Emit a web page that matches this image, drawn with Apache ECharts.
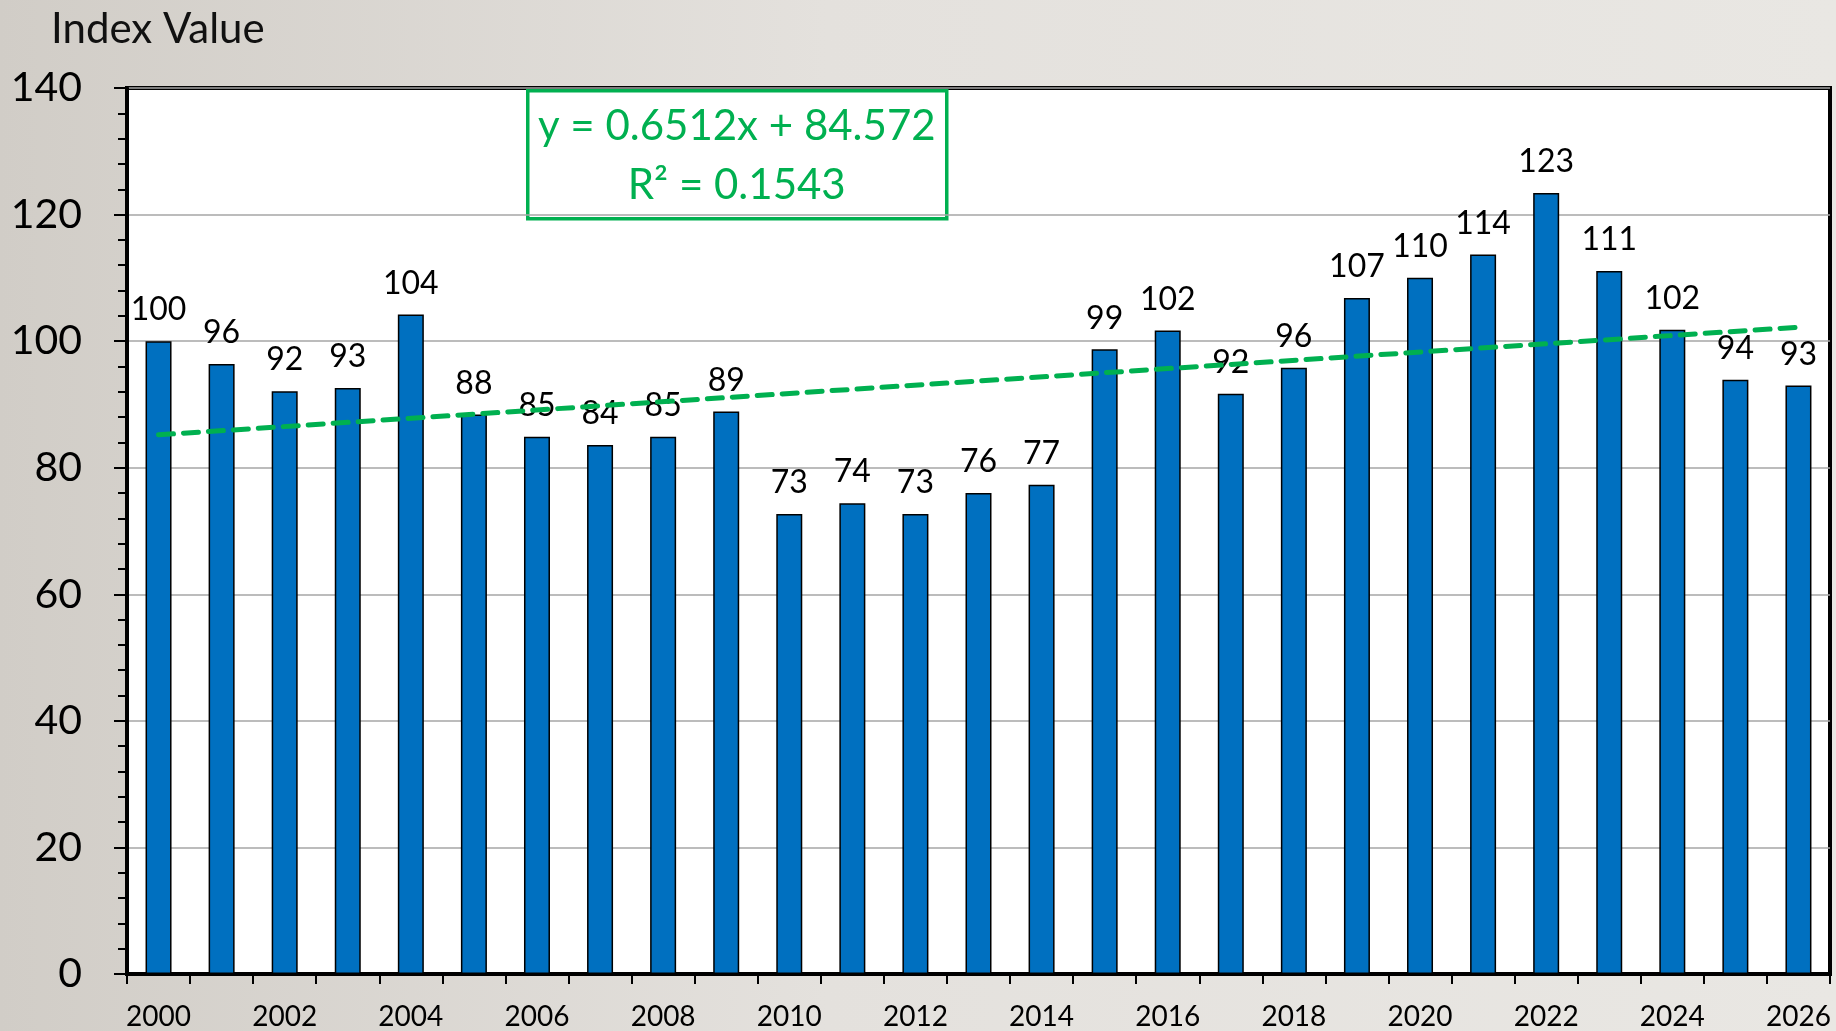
<!DOCTYPE html>
<html>
<head>
<meta charset="utf-8">
<script src="https://cdn.jsdelivr.net/npm/echarts@6/dist/echarts.min.js"></script>
<style>
  html, body { margin: 0; padding: 0; }
  #chart { width: 1836px; height: 1031px; }
</style>
</head>
<body>
<div id="chart"></div>
<script>
const years = ['2000','2001','2002','2003','2004','2005','2006','2007','2008','2009',
  '2010','2011','2012','2013','2014','2015','2016','2017','2018','2019',
  '2020','2021','2022','2023','2024','2025','2026'];
const indexValues = [100.0, 96.4, 92.1, 92.6, 104.2, 88.4, 84.9, 83.6, 84.9, 88.9,
  72.7, 74.4, 72.7, 76.0, 77.3, 98.7, 101.7, 91.7, 95.8, 106.8,
  110.0, 113.7, 123.4, 111.1, 101.8, 93.9, 93.0];
// trend line, first and last year
const trendStart = 85.2;
const trendEnd = 102.2;
const equationLines = ['y = 0.6512x + 84.572', 'R² = 0.1543'];

const trendData = years.map((y, i) => i === 0 ? trendStart : (i === years.length - 1 ? trendEnd : null));
const FONT = 'Lato';
const GREEN = '#00B050';

const chart = echarts.init(document.getElementById('chart'));
chart.setOption({
  animation: false,
  backgroundColor: {
    type: 'linear', x: 0, y: 0, x2: 1, y2: 0,
    colorStops: [
      { offset: 0, color: '#d1cdc7' },
      { offset: 0.45, color: '#e4e1dd' },
      { offset: 1, color: '#e9e7e3' }
    ]
  },
  title: {
    text: 'Index Value',
    left: 46, top: 3,
    textStyle: { fontFamily: FONT, fontSize: 42, fontWeight: 'normal', color: '#111' }
  },
  grid: {
    left: 127, top: 88, right: 6, bottom: 55,
    show: true, backgroundColor: '#ffffff', borderColor: '#000', borderWidth: 4
  },
  xAxis: {
    type: 'category',
    data: years,
    axisLine: { lineStyle: { color: '#000', width: 4 } },
    axisTick: { show: true, interval: 0, length: 10, lineStyle: { color: '#000', width: 2 } },
    axisLabel: { interval: 1, margin: 29, fontFamily: FONT, fontSize: 28, color: '#000' }
  },
  yAxis: {
    type: 'value',
    min: 0, max: 140, interval: 20,
    axisLine: { show: true, lineStyle: { color: '#000', width: 4 } },
    axisTick: { show: true, length: 13, lineStyle: { color: '#000', width: 2 } },
    minorTick: { show: true, splitNumber: 5, length: 9, lineStyle: { color: '#000', width: 2 } },
    splitLine: { lineStyle: { color: '#a6a6a6', width: 1.5 } },
    axisLabel: { margin: 45, fontFamily: FONT, fontSize: 41, color: '#000' }
  },
  graphic: [{
    type: 'group',
    left: 526, top: 89,
    z: 100,
    children: [
      { type: 'rect', shape: { x: 0, y: 0, width: 419, height: 128 },
        style: { fill: '#fff', stroke: GREEN, lineWidth: 3.5 } },
      { type: 'text', x: 209, y: 36,
        style: { text: equationLines[0], fill: GREEN, font: '42px ' + FONT, align: 'center', verticalAlign: 'middle' } },
      { type: 'text', x: 209, y: 95,
        style: { text: equationLines[1], fill: GREEN, font: '42px ' + FONT, align: 'center', verticalAlign: 'middle' } }
    ]
  }],
  series: [{
    type: 'bar',
    data: indexValues,
    barWidth: 26,
    itemStyle: { color: '#0070C0', borderColor: '#000', borderWidth: 1.5 },
    label: {
      show: true, position: 'top', distance: 15,
      fontFamily: FONT, fontSize: 32, color: '#000',
      formatter: p => Math.round(p.value)
    }
  }, {
    type: 'line',
    data: trendData,
    connectNulls: true,
    symbol: 'none',
    z: 5,
    lineStyle: { color: GREEN, width: 5, type: [15, 10], cap: 'round' }
  }]
});
</script>
</body>
</html>
